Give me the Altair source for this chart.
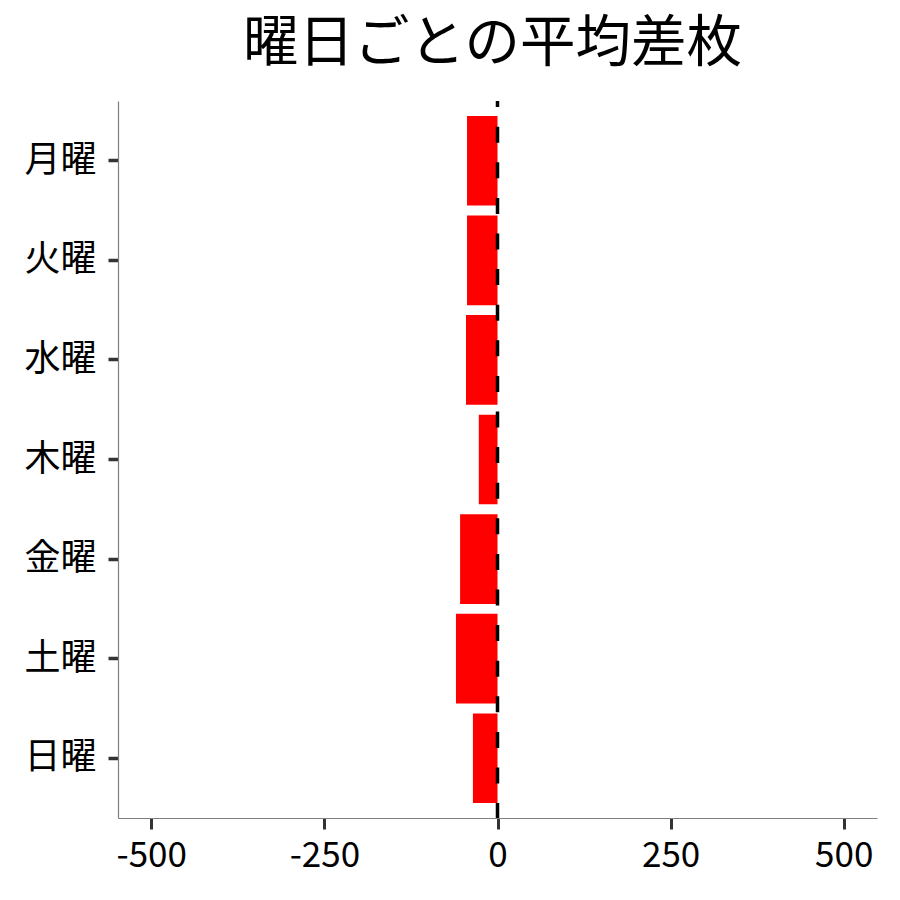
import altair as alt
import pandas as pd

days = ["月曜", "火曜", "水曜", "木曜", "金曜", "土曜", "日曜"]
avg_diff = [-44, -44, -45.5, -27, -54, -60, -35.5]
x_ticks = [-500, -250, 0, 250, 500]

df = pd.DataFrame({"day": days, "diff": avg_diff})
FONT = "Noto Sans CJK JP"

base = alt.Chart(df)

bars = base.mark_bar(color="#FF0000").encode(
    x=alt.X(
        "diff:Q",
        scale=alt.Scale(domain=[-548, 548], nice=False, zero=False),
        axis=alt.Axis(
            values=x_ticks,
            title=None,
            grid=False,
            domainColor="#7F7F7F",
            domainWidth=1.2,
            tickColor="#333333",
            tickWidth=3,
            tickSize=11,
            labelFontSize=35,
            labelFont=FONT,
            labelColor="#000000",
            labelPadding=9,
            labelExpr="replace(datum.label, '−', '-')",
        ),
    ),
    y=alt.Y(
        "day:N",
        sort=days,
        scale=alt.Scale(paddingInner=0.1, paddingOuter=0.15),
        axis=alt.Axis(
            title=None,
            grid=False,
            domainColor="#7F7F7F",
            domainWidth=1.2,
            tickColor="#333333",
            tickWidth=3.5,
            tickSize=10,
            labelFontSize=36,
            labelFont=FONT,
            labelColor="#000000",
            labelPadding=12,
        ),
    ),
)

zero_df = pd.DataFrame({"x0": [0]})
zero_line = alt.Chart(zero_df).mark_rule(
    color="#000000", strokeWidth=3.5, strokeDash=[16, 19.6], strokeDashOffset=9.9
).encode(
    x="x0:Q",
    y=alt.value(0),
    y2=alt.value(717),
)

chart = (
    alt.layer(bars, zero_line)
    .properties(
        width=759,
        height=717,
        title=alt.TitleParams(
            "曜日ごとの平均差枚",
            fontSize=55.5,
            font=FONT,
            fontWeight="normal",
            color="#000000",
            anchor="middle",
            baseline="alphabetic",
            offset=-17,
            dx=-5,
        ),
        autosize=alt.AutoSizeParams(type="none"),
        padding={"left": 110, "top": 93, "right": 10, "bottom": 70},
        background="white",
    )
    .configure_view(stroke=None)
)

chart.save("out.html", embed_options={"renderer": "svg", "actions": False})
